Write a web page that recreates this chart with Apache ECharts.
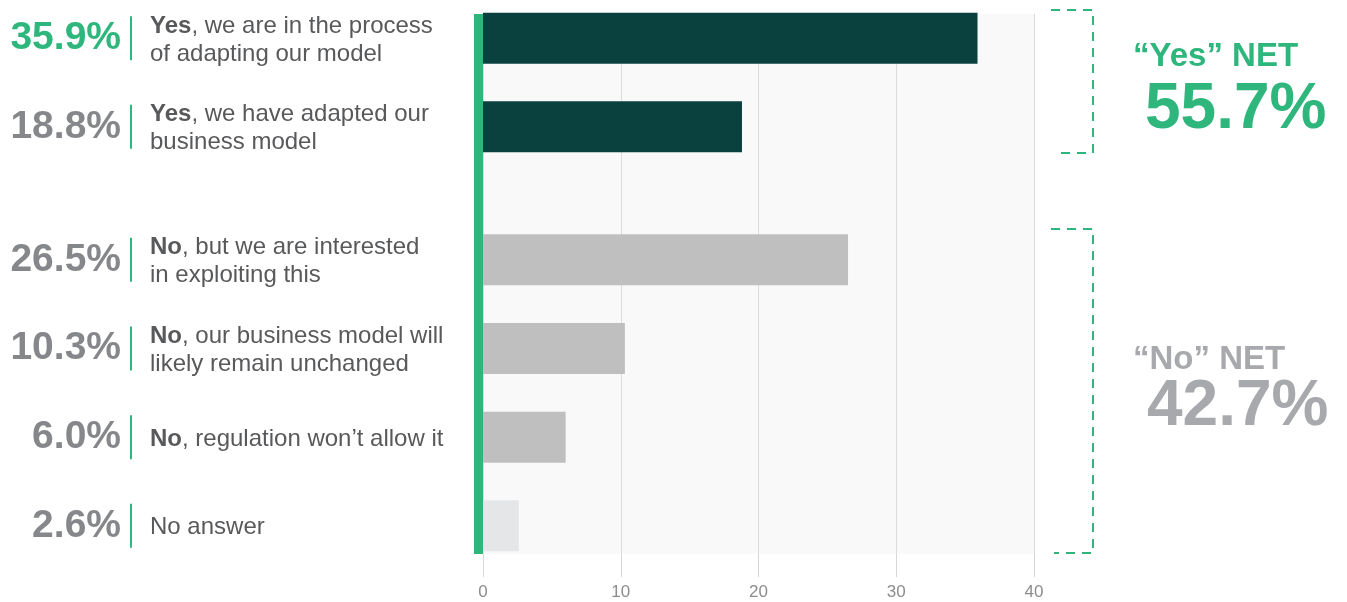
<!DOCTYPE html>
<html>
<head>
<meta charset="utf-8">
<script src="https://cdn.jsdelivr.net/npm/echarts@6/dist/echarts.min.js"></script>
<style>
  html, body { margin: 0; padding: 0; background: #fff; }
  #chart { width: 1347px; height: 602px; }
</style>
</head>
<body>
<div id="chart"></div>
<script>
// answers (top to bottom)
const leadWords = ['Yes', 'Yes', 'No', 'No', 'No', ''];
const answerLines = [
  [', we are in the process', 'of adapting our model'],
  [', we have adapted our', 'business model'],
  [', but we are interested', 'in exploiting this'],
  [', our business model will', 'likely remain unchanged'],
  [', regulation won\u2019t allow it'],
  ['No answer']
];
const shares = [35.9, 18.8, 26.5, 10.3, 6.0, 2.6];   // %
const groups = ['yes', 'yes', 'no', 'no', 'no', 'none'];
const netLabels = ['\u201CYes\u201D NET', '\u201CNo\u201D NET'];
const netValues = [55.7, 42.7];
const xTicks = [0, 10, 20, 30, 40];

const font = "'Liberation Sans', Arial, Helvetica, sans-serif";
const green = '#2fb67c';
const textGray = '#58595b';
const pctGray = '#86878a';
const netGray = '#a8a9ac';
const barColor = { yes: '#0a413e', no: '#bfbfbf', none: '#e5e6e8' };

// slot layout: one blank between answers, an extra blank between the yes/no blocks
const slots = [];
shares.forEach((v, i) => {
  if (i > 0) {
    slots.push(null);
    if (groups[i] !== groups[i - 1] && groups[i - 1] === 'yes') slots.push(null);
  }
  slots.push(i);
});
const cats = slots.map((s, k) => s === null ? 'gap' + k : 'row' + s);

const myChart = echarts.init(document.getElementById('chart'));

const option = {
  animation: false,
  grid: [
    // bars
    { left: 483, right: 313, top: 16, bottom: 54, show: false },
    // background, ticks and green baseline
    { left: 483, right: 313, top: 14, bottom: 48, show: true, backgroundColor: '#f9f9f9', borderWidth: 0 }
  ],
  xAxis: [
    { gridIndex: 0, type: 'value', min: xTicks[0], max: xTicks[xTicks.length - 1], show: false },
    {
      gridIndex: 1, type: 'value',
      min: xTicks[0], max: xTicks[xTicks.length - 1], interval: xTicks[1] - xTicks[0],
      axisLine: { show: false, onZero: false },
      axisTick: { show: true, length: 23, lineStyle: { color: '#d6d6d6', width: 1 } },
      splitLine: { show: true, lineStyle: { color: '#dcdcdc', width: 1 } },
      axisLabel: { margin: 30, fontSize: 17, color: '#8c8c8c', fontFamily: font }
    }
  ],
  yAxis: [
    // answer text
    {
      gridIndex: 0, type: 'category', data: cats, inverse: true, position: 'left',
      axisLine: { show: false }, axisTick: { show: false }, splitLine: { show: false },
      axisLabel: {
        interval: 0, align: 'left', margin: 333,
        padding: [4, 0, 0, 0],
        fontFamily: font,
        formatter: function (value, idx) {
          const s = slots[idx];
          if (s === null || s === undefined) return '';
          const lines = answerLines[s];
          let first = (leadWords[s] ? '{b|' + leadWords[s] + '}' : '') + '{t|' + lines[0] + '}';
          if (lines.length > 1) first += '\n{t|' + lines[1] + '}';
          return first;
        },
        rich: {
          b: { fontSize: 24, fontWeight: 'bold', color: textGray, fontFamily: font, lineHeight: 28 },
          t: { fontSize: 24, color: textGray, fontFamily: font, lineHeight: 28 }
        }
      }
    },
    // percentage + divider
    {
      gridIndex: 0, type: 'category', data: cats, inverse: true, position: 'left',
      axisLine: { show: false }, axisTick: { show: false }, splitLine: { show: false },
      axisLabel: {
        interval: 0, align: 'right', margin: 351,
        fontFamily: font,
        formatter: function (value, idx) {
          const s = slots[idx];
          if (s === null || s === undefined) return '';
          const style = s === 0 ? 'pg' : 'pn';
          return '{' + style + '|' + shares[s].toFixed(1) + '%}{sp| }{dv| }';
        },
        rich: {
          pg: { fontSize: 39, fontWeight: 'bold', color: green, fontFamily: font },
          pn: { fontSize: 39, fontWeight: 'bold', color: pctGray, fontFamily: font },
          sp: { width: 9 },
          dv: { width: 2, height: 44, backgroundColor: green, fontSize: 2 }
        }
      }
    },
    // green baseline
    {
      gridIndex: 1, type: 'value', min: 0, max: 1, offset: 4.5,
      axisLine: { show: true, onZero: false, lineStyle: { color: green, width: 9, cap: 'butt' } },
      axisTick: { show: false }, axisLabel: { show: false }, splitLine: { show: false }
    }
  ],
  series: [
    {
      // pictorial rect so the bar thickness can exceed the half-slot band
      type: 'pictorialBar',
      xAxisIndex: 0,
      yAxisIndex: 0,
      symbol: 'rect',
      symbolSize: ['100%', 51],
      symbolPosition: 'start',
      symbolRepeat: false,
      data: slots.map(s => s === null ? '-' : { value: shares[s], itemStyle: { color: barColor[groups[s]] } }),
      emphasis: { disabled: true },
      z: 3
    }
  ],
  graphic: [
    {
      type: 'polyline',
      shape: { points: [[1051, 10], [1093, 10], [1093, 153], [1054, 153]] },
      style: { stroke: green, lineWidth: 2, lineDash: [9, 7], fill: null }
    },
    {
      type: 'polyline',
      shape: { points: [[1051, 229], [1093, 229], [1093, 553], [1054, 553]] },
      style: { stroke: green, lineWidth: 2, lineDash: [9, 7], fill: null }
    },
    {
      type: 'text', left: 1133, top: 40,
      style: { text: netLabels[0], fontSize: 33, fontWeight: 'bold', fill: green, fontFamily: font }
    },
    {
      type: 'text', left: 1145, top: 78,
      style: { text: netValues[0].toFixed(1) + '%', fontSize: 64, fontWeight: 'bold', fill: green, fontFamily: font }
    },
    {
      type: 'text', left: 1133, top: 343,
      style: { text: netLabels[1], fontSize: 33, fontWeight: 'bold', fill: netGray, fontFamily: font }
    },
    {
      type: 'text', left: 1147, top: 375,
      style: { text: netValues[1].toFixed(1) + '%', fontSize: 64, fontWeight: 'bold', fill: netGray, fontFamily: font }
    }
  ]
};

window.addEventListener('resize', () => {
  myChart.resize();
});
myChart.setOption(option);
</script>
</body>
</html>
